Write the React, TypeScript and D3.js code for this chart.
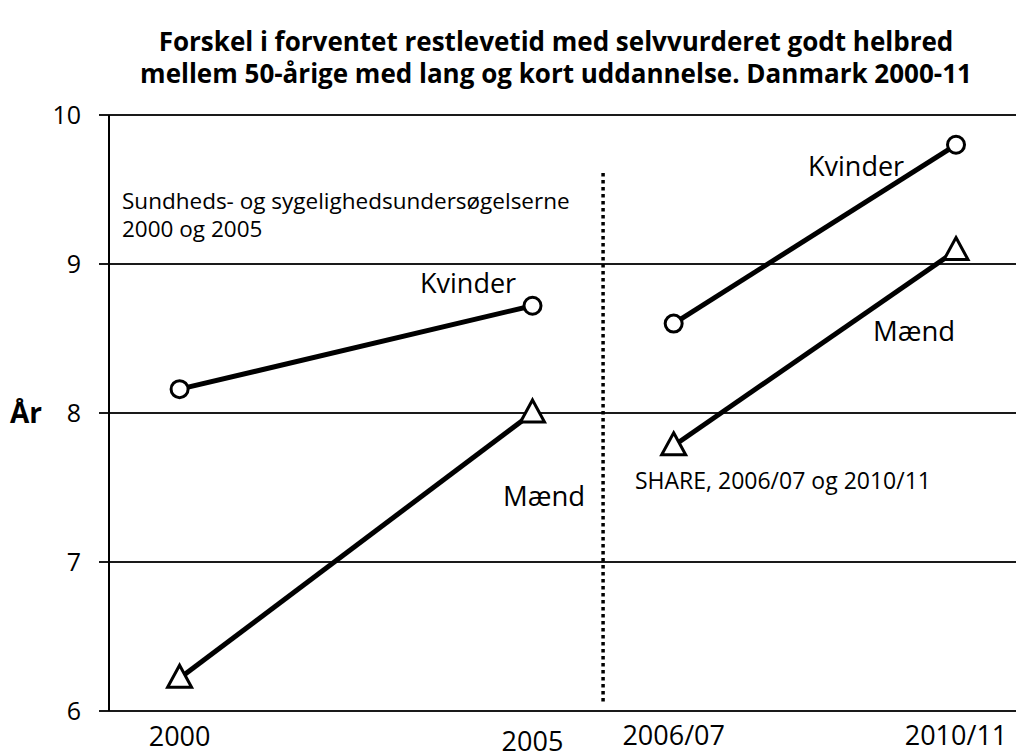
import React from 'react';
import * as d3 from 'd3';

// x positions are in "years" so the gap between survey waves is kept
const tickYears = [2000, 2005, 2007, 2011];
const tickLabels = ['2000', '2005', '2006/07', '2010/11'];

const yTicks = [6, 7, 8, 9, 10];

// Sundheds- og sygelighedsundersøgelserne
const susyYears = [2000, 2005];
const susyKvinder = [8.16, 8.72];
const susyMaend = [6.22, 8.0];

// SHARE
const shareYears = [2007, 2011];
const shareKvinder = [8.6, 9.8];
const shareMaend = [7.78, 9.09];

const splitYear = 2006;

const width = 1017;
const height = 753;
const font = "'Open Sans', 'DejaVu Sans', sans-serif";

const App = () => {
  const x = d3.scaleLinear().domain([1999, 2011.85]).range([109, 1016]);
  const y = d3.scaleLinear().domain([6, 10]).range([711, 115]);

  const line = d3.line<[number, number]>()
    .x(d => x(d[0]))
    .y(d => y(d[1]));

  const pairs = (xs: number[], vs: number[]) => xs.map((v, i) => [v, vs[i]] as [number, number]);

  const kvinder = [pairs(susyYears, susyKvinder), pairs(shareYears, shareKvinder)];
  const maend = [pairs(susyYears, susyMaend), pairs(shareYears, shareMaend)];

  // triangle marker: data point sits a bit below the apex
  const tri = 'M0,-13 L12,9 L-12,9 Z';

  // small vertical nudges of the x labels, as in the original
  const labelBaseline = [746, 751, 745, 745];

  return (
    <svg width={width} height={height} style={{ position: 'absolute', left: 0, top: 0, background: '#fff' }}
      fontFamily={font}>
      <text x={556} y={51} textAnchor="middle" fontSize={26} fontWeight="bold">
        Forskel i forventet restlevetid med selvvurderet godt helbred
      </text>
      <text x={556} y={83} textAnchor="middle" fontSize={26} fontWeight="bold">
        mellem 50-årige med lang og kort uddannelse. Danmark 2000-11
      </text>

      {/* gridlines + y ticks */}
      {yTicks.map(t => (
        <g key={t}>
          <line x1={99} x2={1016} y1={y(t)} y2={y(t)} stroke="#1a1a1a" strokeWidth={1.8} />
          <text x={81} y={y(t)} dy="0.35em" textAnchor="end" fontSize={25}>{t}</text>
        </g>
      ))}
      <line x1={109} x2={109} y1={y(10)} y2={y(6)} stroke="#000" strokeWidth={2} />

      <text x={10} y={y(8)} dy="0.36em" fontSize={28} fontWeight="bold">År</text>

      {/* x labels */}
      {tickYears.map((t, i) => (
        <text key={t} x={x(t)} y={labelBaseline[i]} textAnchor="middle" fontSize={27}>{tickLabels[i]}</text>
      ))}

      {/* split between the two data sources */}
      <line x1={x(splitYear)} x2={x(splitYear)} y1={173} y2={705} stroke="#000" strokeWidth={3.5}
        strokeDasharray="3.5 3.5" />

      {/* series lines */}
      {[...kvinder, ...maend].map((seg, i) => (
        <path key={i} d={line(seg) || ''} fill="none" stroke="#000" strokeWidth={5} />
      ))}

      {/* markers */}
      {kvinder.flat().map((d, i) => (
        <circle key={'k' + i} cx={x(d[0])} cy={y(d[1])} r={8.5} fill="#fff" stroke="#000" strokeWidth={3} />
      ))}
      {maend.flat().map((d, i) => (
        <path key={'m' + i} d={tri} transform={`translate(${x(d[0])},${y(d[1])})`} fill="#fff"
          stroke="#000" strokeWidth={3} strokeLinejoin="miter" />
      ))}

      {/* annotations */}
      <text x={122} y={209} fontSize={22.5}>Sundheds- og sygelighedsundersøgelserne</text>
      <text x={122} y={237} fontSize={22.5}>2000 og 2005</text>
      <text x={420} y={293} fontSize={27}>Kvinder</text>
      <text x={503} y={506} fontSize={27.5}>Mænd</text>
      <text x={808} y={176} fontSize={27}>Kvinder</text>
      <text x={873} y={341} fontSize={27.5}>Mænd</text>
      <text x={635} y={489} fontSize={23}>SHARE, 2006/07 og 2010/11</text>
    </svg>
  );
};

export default App;
